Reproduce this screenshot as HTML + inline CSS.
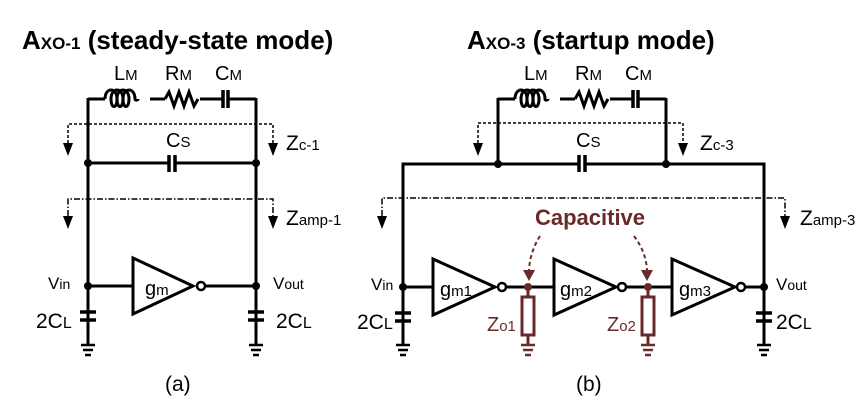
<!DOCTYPE html>
<html><head><style>
body{margin:0;background:#fff;}
svg{display:block;font-family:"Liberation Sans",Arial,sans-serif;}
</style></head><body>
<svg width="859" height="411" viewBox="0 0 859 411" xmlns="http://www.w3.org/2000/svg">
<defs>
<g id="mot" fill="none" stroke="#000" stroke-width="3">
  <path d="M0 99 H17 M62 99 H77 M112 99 H134 M141 99 H168"/>
  <path d="M17 99 c0 -12 12 -12 12 0 c0 10 -6 10 -6 0 c0 -12 12 -12 12 0 c0 10 -6 10 -6 0 c0 -12 12 -12 12 0 c0 10 -6 10 -6 0 c0 -12 12 -12 12 0 c0 2 3 1 3 0"/>
  <path d="M77 99 l4 -7 l5 14 l5 -14 l5 14 l5 -14 l5 14 l4 -7"/>
  <path d="M135 90 V108 M140 90 V108" stroke-width="3.5"/>
</g>
<g id="gnd" stroke="#000" stroke-width="2.5">
  <path d="M-7 345 H7 M-5 350 H5 M-3 355 H3"/>
</g>
<path id="ar" d="M-5 0 L5 0 L0 13 Z" fill="#000"/>
</defs>

<!-- Titles -->
<text x="22" y="49" font-size="26" font-weight="bold">A<tspan font-size="17" font-weight="bold">XO-1</tspan> (steady-state mode)</text>
<text x="467" y="49" font-size="26" font-weight="bold">A<tspan font-size="17" font-weight="bold">XO-3</tspan> (startup mode)</text>

<!-- ===== (a) ===== -->
<g transform="translate(88,0)"><use href="#mot"/></g>
<text x="114" y="80" font-size="20">L<tspan font-size="15">M</tspan></text>
<text x="165" y="80" font-size="20">R<tspan font-size="15">M</tspan></text>
<text x="215" y="80" font-size="20">C<tspan font-size="15">M</tspan></text>
<g fill="none" stroke="#000" stroke-width="3">
  <path d="M88 98 V345 M256 98 V345"/>
  <path d="M88 163 H169 M176 163 H256"/>
  <path d="M169 155 V172 M175 155 V172" stroke-width="3.5"/>
  <path d="M88 286 H133 M206 286 H256"/>
  <path d="M133 258 L193 286 L133 314 Z"/>
  <path d="M80 312 H96 M80 320 H96 M248 312 H264 M248 320 H264" stroke-width="3.5"/>
</g>
<circle cx="88" cy="163" r="4" fill="#000"/><circle cx="256" cy="163" r="4" fill="#000"/>
<circle cx="88" cy="286" r="4" fill="#000"/><circle cx="256" cy="286" r="4" fill="#000"/>
<circle cx="201" cy="286" r="4" fill="#fff" stroke="#000" stroke-width="2.5"/>
<g transform="translate(88,0)"><use href="#gnd"/></g>
<g transform="translate(256,0)"><use href="#gnd"/></g>
<text x="166" y="147" font-size="20">C<tspan font-size="15">S</tspan></text>
<g fill="none" stroke="#000" stroke-width="1.5">
  <path d="M68 143 V124 H273 V143" stroke-dasharray="3 2"/>
  <path d="M68 216 V199 H273 V216" stroke-dasharray="6 2 1.5 2"/>
</g>
<use href="#ar" x="68" y="143"/><use href="#ar" x="273" y="143"/>
<use href="#ar" x="68" y="216"/><use href="#ar" x="273" y="216"/>
<text x="286" y="150" font-size="21">Z<tspan font-size="15">c-1</tspan></text>
<text x="286" y="225" font-size="21">Z<tspan font-size="15">amp-1</tspan></text>
<text x="145" y="295" font-size="20">g<tspan font-size="15">m</tspan></text>
<text x="48" y="289" font-size="17">V<tspan font-size="14">in</tspan></text>
<text x="273" y="289" font-size="17">V<tspan font-size="14">out</tspan></text>
<text x="36" y="328" font-size="21">2C<tspan font-size="16">L</tspan></text>
<text x="276" y="328" font-size="21">2C<tspan font-size="16">L</tspan></text>
<text x="165" y="391" font-size="21">(a)</text>

<!-- ===== (b) ===== -->
<g transform="translate(498,0)"><use href="#mot"/></g>
<text x="524" y="80" font-size="20">L<tspan font-size="15">M</tspan></text>
<text x="575" y="80" font-size="20">R<tspan font-size="15">M</tspan></text>
<text x="625" y="80" font-size="20">C<tspan font-size="15">M</tspan></text>
<g fill="none" stroke="#000" stroke-width="3">
  <path d="M498 98 V164 M666 98 V164"/>
  <path d="M403 345 V164 H579 M586 164 H764 V345"/>
  <path d="M579 155 V172 M585 155 V172" stroke-width="3.5"/>
  <path d="M403 287 H433 M506 287 H554 M626 287 H672 M745 287 H764"/>
  <path d="M433 259 L495 287 L433 315 Z"/>
  <path d="M554 259 L616 287 L554 315 Z"/>
  <path d="M672 259 L735 287 L672 315 Z"/>
  <path d="M395 313 H411 M395 321 H411 M756 313 H772 M756 321 H772" stroke-width="3.5"/>
</g>
<circle cx="498" cy="164" r="4" fill="#000"/><circle cx="666" cy="164" r="4" fill="#000"/>
<circle cx="403" cy="287" r="4" fill="#000"/><circle cx="764" cy="287" r="4" fill="#000"/>
<circle cx="502" cy="287" r="4" fill="#fff" stroke="#000" stroke-width="2.5"/>
<circle cx="622" cy="287" r="4" fill="#fff" stroke="#000" stroke-width="2.5"/>
<circle cx="741" cy="287" r="4" fill="#fff" stroke="#000" stroke-width="2.5"/>
<g transform="translate(403,0)"><use href="#gnd"/></g>
<g transform="translate(764,0)"><use href="#gnd"/></g>
<!-- Zo -->
<g fill="none" stroke="#6b2a2a" stroke-width="3">
  <path d="M528 287 V297 M528 335 V345 M648 287 V297 M648 335 V345"/>
  <rect x="522" y="297" width="12" height="38"/>
  <rect x="642" y="297" width="12" height="38"/>
  <path d="M521 345 H535 M523 350 H533 M525 355 H531 M641 345 H655 M643 350 H653 M645 355 H651" stroke-width="2.5"/>
  <path d="M540 236 Q530 252 529 270" stroke-width="2" stroke-dasharray="4 3"/>
  <path d="M634 236 Q646 252 647 270" stroke-width="2" stroke-dasharray="4 3"/>
</g>
<path d="M523 270 L535 270 L529 281 Z" fill="#6b2a2a"/>
<path d="M641 270 L653 270 L647 281 Z" fill="#6b2a2a"/>
<circle cx="528" cy="287" r="4" fill="#6b2a2a"/><circle cx="648" cy="287" r="4" fill="#6b2a2a"/>
<text x="590" y="225" font-size="22" font-weight="bold" fill="#6b2a2a" text-anchor="middle">Capacitive</text>
<text x="487" y="331" font-size="20" fill="#6b2a2a">Z<tspan font-size="15">o1</tspan></text>
<text x="607" y="331" font-size="20" fill="#6b2a2a">Z<tspan font-size="15">o2</tspan></text>
<text x="576" y="147" font-size="20">C<tspan font-size="15">S</tspan></text>
<g fill="none" stroke="#000" stroke-width="1.5">
  <path d="M478 143 V123 H683 V143" stroke-dasharray="3 2"/>
  <path d="M382 216 V198 H785 V216" stroke-dasharray="6 2 1.5 2"/>
</g>
<use href="#ar" x="478" y="143"/><use href="#ar" x="683" y="143"/>
<use href="#ar" x="382" y="216"/><use href="#ar" x="785" y="216"/>
<text x="700" y="150" font-size="21">Z<tspan font-size="15">c-3</tspan></text>
<text x="800" y="225" font-size="21">Z<tspan font-size="15">amp-3</tspan></text>
<text x="440" y="296" font-size="20">g<tspan font-size="15">m1</tspan></text>
<text x="560" y="296" font-size="20">g<tspan font-size="15">m2</tspan></text>
<text x="679" y="296" font-size="20">g<tspan font-size="15">m3</tspan></text>
<text x="371" y="290" font-size="17">V<tspan font-size="14">in</tspan></text>
<text x="776" y="290" font-size="17">V<tspan font-size="14">out</tspan></text>
<text x="357" y="329" font-size="21">2C<tspan font-size="16">L</tspan></text>
<text x="776" y="329" font-size="21">2C<tspan font-size="16">L</tspan></text>
<text x="576" y="391" font-size="21">(b)</text>
</svg>
</body></html>
